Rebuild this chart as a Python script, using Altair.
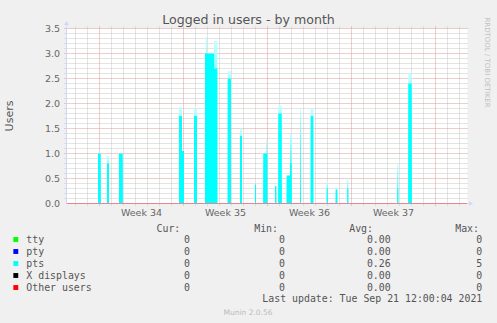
import altair as alt
import pandas as pd

# ---- data (x in days since the left edge of the plot) ----
bar_start = [2.625, 3.375, 4.375, 9.375, 9.625, 10.625, 11.542, 11.6, 12.292, 13.433, 14.458, 15.708, 16.4,
             16.625, 17.375, 17.65, 18.35, 18.625, 19.458, 20.35, 21.683, 22.433, 23.4, 27.567, 28.483]
bar_end = [2.85, 3.542, 4.683, 9.625, 9.792, 10.875, 12.292, 11.708, 12.567, 13.708, 14.625, 15.792, 16.625,
           16.733, 17.483, 17.933, 18.625, 18.767, 19.542, 20.567, 21.767, 22.567, 23.483, 27.65, 28.767]
bar_solid = [1.0, 0.8, 1.0, 1.75, 1.05, 1.75, 3.0, 3.0, 2.7, 2.5, 1.35, 0.38, 1.0,
             1.0, 0.35, 1.8, 0.56, 0.8, 0.0, 1.75, 0.3, 0.28, 0.3, 0.3, 2.4]
bar_peak = [1.0, 0.95, 1.0, 1.93, 1.05, 1.9, 3.0, 3.33, 3.25, 2.65, 1.5, 0.38, 1.0,
            1.27, 0.35, 1.96, 0.56, 1.39, 1.9, 1.9, 0.44, 0.3, 0.5, 0.8, 2.6]

y_ticks = [0.0, 0.5, 1.0, 1.5, 2.0, 2.5, 3.0, 3.5]
y_minor = [round(i / 10, 1) for i in range(1, 35) if i % 5 != 0]
week_starts = [2.75, 9.75, 16.75, 23.75, 30.75]
day_lines = [0.75 + k for k in range(33) if (0.75 + k) not in week_starts]
week_label_pos = [6.25, 13.25, 20.25, 27.25]
week_labels = ["Week 34", "Week 35", "Week 36", "Week 37"]

series = ["tty", "pty", "pts", "X displays", "Other users"]
series_colors = ["#00FF00", "#0000FF", "#00FFFF", "#000000", "#FF0000"]
cur_vals = ["0", "0", "0", "0", "0"]
min_vals = ["0", "0", "0", "0", "0"]
avg_vals = ["0.00", "0.00", "0.26", "0.00", "0.00"]
max_vals = ["0", "0", "5", "0", "0"]
headers = ["Cur:", "Min:", "Avg:", "Max:"]

W, H = 401, 175
X_MAX = W / 12.0
FONT = "DejaVu Sans"
MONO = "DejaVu Sans Mono"
TXT = "#555555"

xs = alt.Scale(domain=[0, X_MAX], nice=False, zero=False)
ys = alt.Scale(domain=[0, 3.5], nice=False, zero=False)

bars = pd.DataFrame({"start": bar_start, "end": bar_end, "solid": bar_solid, "peak": bar_peak})

def X(f):
    return alt.X(f, scale=xs, axis=None)

def Y(f):
    return alt.Y(f, scale=ys, axis=None)

minor_h = alt.Chart(pd.DataFrame({"v": y_minor})).mark_rule(
    color="#C8C8C8", strokeDash=[1, 1], strokeWidth=1).encode(
    y=Y("v:Q"), x=alt.value(-2), x2=alt.value(W))
major_h = alt.Chart(pd.DataFrame({"v": y_ticks[1:]})).mark_rule(
    color="#DE9A9A", strokeDash=[1, 1], strokeWidth=1).encode(
    y=Y("v:Q"), x=alt.value(-2), x2=alt.value(W))
minor_v = alt.Chart(pd.DataFrame({"d": day_lines})).mark_rule(
    color="#C8C8C8", strokeDash=[1, 1], strokeWidth=1).encode(
    x=X("d:Q"), y=alt.value(-2), y2=alt.value(H + 2))
major_v = alt.Chart(pd.DataFrame({"d": week_starts})).mark_rule(
    color="#DE9A9A", strokeDash=[1, 1], strokeWidth=1).encode(
    x=X("d:Q"), y=alt.value(-2), y2=alt.value(H + 2))

grad = alt.Gradient(
    gradient="linear",
    stops=[alt.GradientStop(color="#C4FFFF", offset=0),
           alt.GradientStop(color="#55FFFF", offset=0.35),
           alt.GradientStop(color="#00FFFF", offset=1)],
    x1=0, x2=0, y1=0, y2=1)

peak_layer = alt.Chart(bars).mark_rect(color=grad, strokeWidth=0).encode(
    x=X("start:Q"), x2="end:Q", y=Y("peak:Q"), y2=alt.datum(0))
solid_layer = alt.Chart(bars).transform_filter("datum.solid > 0").mark_rect(
    color="#00FFFF", strokeWidth=0).encode(
    x=X("start:Q"), x2="end:Q", y=Y("solid:Q"), y2=alt.datum(0))

zero_line = alt.Chart(pd.DataFrame({"v": [0.0]})).mark_rule(color="#E8858F", strokeWidth=1).encode(
    y=Y("v:Q"), x=alt.value(0), x2=alt.value(W))
yaxis_line = alt.Chart(pd.DataFrame({"v": [0.0]})).mark_rule(color="#CFD6F8", strokeWidth=1).encode(
    x=X("v:Q"), y=alt.value(H), y2=alt.value(-3))
arrow_up = alt.Chart(pd.DataFrame({"v": [0.0]})).mark_point(
    shape="triangle-up", filled=True, color="#CFD6F8", size=22, opacity=1).encode(
    x=X("v:Q"), y=alt.value(-5.5))
arrow_right = alt.Chart(pd.DataFrame({"v": [0.0]})).mark_point(
    shape="triangle-right", filled=True, color="#CFD6F8", size=22, opacity=1).encode(
    y=Y("v:Q"), x=alt.value(W + 3.5))

y_labels = alt.Chart(pd.DataFrame({"v": y_ticks})).mark_text(
    align="right", baseline="middle", font=FONT, fontSize=9.5, color="#666666").encode(
    y=Y("v:Q"), x=alt.value(-6.5), text=alt.Text("v:Q", format=".1f"))
x_labels = alt.Chart(pd.DataFrame({"pos": week_label_pos, "label": week_labels})).mark_text(
    align="center", baseline="middle", font=FONT, fontSize=9.5, color="#666666").encode(
    x=X("pos:Q"), y=alt.value(H + 9), text="label:N")

def single(text, x, y, **kw):
    return alt.Chart(pd.DataFrame({"t": [text]})).mark_text(**kw).encode(
        text="t:N", x=alt.value(x), y=alt.value(y))

title = single("Logged in users - by month", 182, -8.5, font=FONT, fontSize=12.6,
               color=TXT, align="center", baseline="middle")
ytitle = single("Users", -56.5, 87.5, font=FONT, fontSize=11, color=TXT,
                align="center", baseline="middle", angle=270)
watermark = single("RRDTOOL / TOBI OETIKER", 420.5, 34, font=FONT, fontSize=7,
                   color="#C0C0C0", align="center", baseline="middle", angle=90)
last_update = single("Last update: Tue Sep 21 12:00:04 2021", 415.8, 270.8, font=MONO,
                     fontSize=9.9, color=TXT, align="right", baseline="middle")
munin = single("Munin 2.0.56", 181.5, 284.5, font=FONT, fontSize=7.5, color="#BBBBBB",
               align="center", baseline="middle")

plot = alt.layer(minor_h, minor_v, major_h, major_v, peak_layer, solid_layer,
                 zero_line, yaxis_line, arrow_up, arrow_right, y_labels, x_labels,
                 title, ytitle, watermark, last_update, munin)

# ---- legend ----
leg = pd.DataFrame({"series": series, "cur": cur_vals, "min": min_vals, "avg": avg_vals, "max": max_vals})
ly = alt.Scale(type="point", domain=series, range=[211, 259], padding=0)

squares = alt.Chart(leg).mark_square(size=24, opacity=1, filled=True).encode(
    y=alt.Y("series:N", scale=ly, axis=None), x=alt.value(-50.7),
    color=alt.Color("series:N", scale=alt.Scale(domain=series, range=series_colors), legend=None))
names = alt.Chart(leg).mark_text(align="left", baseline="middle", font=MONO, fontSize=9.9, color=TXT).encode(
    y=alt.Y("series:N", scale=ly, axis=None), x=alt.value(-40.2), text="series:N")

legend_layers = [squares, names]
val_ends = [123.5, 218.5, 324.2, 415.8]
hdr_ends = [113.8, 211.5, 306.5, 412.5]
hdr_df = pd.DataFrame({"h": headers})
for col, vend, hdr, hend in zip(["cur", "min", "avg", "max"], val_ends, headers, hdr_ends):
    legend_layers.append(alt.Chart(leg).mark_text(
        align="right", baseline="middle", font=MONO, fontSize=9.9, color=TXT).encode(
        y=alt.Y("series:N", scale=ly, axis=None), x=alt.value(vend), text=f"{col}:N"))
    legend_layers.append(alt.Chart(hdr_df).transform_filter(alt.datum.h == hdr).mark_text(
        align="right", baseline="middle", font=MONO, fontSize=9.9, color=TXT).encode(
        text="h:N", x=alt.value(hend), y=alt.value(200.5)))

legend = alt.layer(*legend_layers)

chart = alt.layer(plot, legend).resolve_scale(
    x="independent", y="independent", color="independent"
).properties(
    width=W, height=H,
    padding={"left": 66.5, "top": 28.5, "right": 29.5, "bottom": 119.5},
    autosize=alt.AutoSizeParams(type="none"),
    background="#F0F0F0",
).configure_view(fill="white", stroke=None)

chart.save("out.html", embed_options={"renderer": "svg", "actions": False})
